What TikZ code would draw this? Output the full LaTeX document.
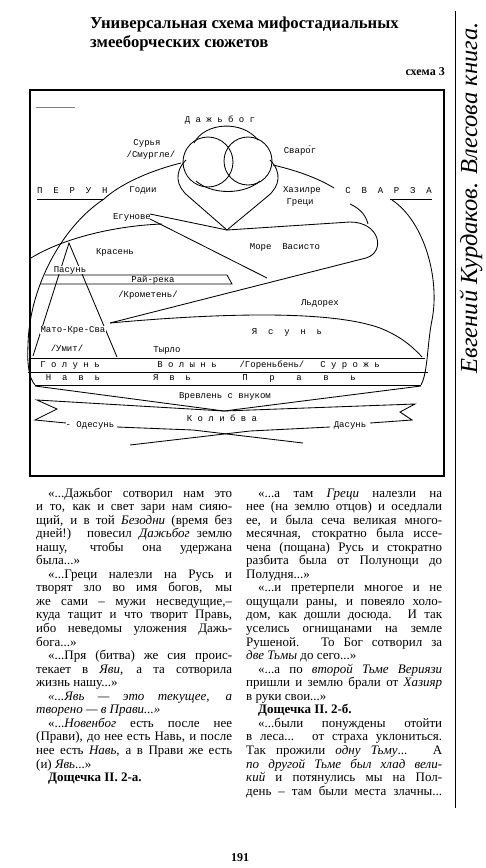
\documentclass[tikz,border=0pt]{standalone}
\usepackage{fontspec}
\setmainfont{Liberation Serif}
\newfontfamily\typefont{Liberation Mono}
\usetikzlibrary{positioning}

\newlength\colw
\setlength\colw{196pt}
\newcommand\fullline[1]{\hbox to \colw{#1}}
\newcommand\lastline[1]{\hbox{#1}}
\newcommand\ind{\hspace*{12pt}}

\tikzset{
  lbl/.style={font=\typefont\fontsize{9}{9.5}\selectfont, inner sep=0pt},
  curve/.style={line width=0.85pt},
  frame/.style={line width=1.1pt},
  column/.style={anchor=base west, inner sep=0pt, font=\fontsize{13}{13.55}\selectfont},
}

\begin{document}
\begin{tikzpicture}[x=1pt, y=-1pt]
\useasboundingbox (0,0) rectangle (486,868);

% title
\node[anchor=base west, inner sep=0pt, font=\bfseries\fontsize{16.7}{19}\selectfont] (title1) at (90,28) {Универсальная схема мифостадиальных};
\node[anchor=base west, inner sep=0pt, font=\bfseries\fontsize{16.7}{19}\selectfont] (title2) at (90,47) {змееборческих сюжетов};
\node[anchor=base east, inner sep=0pt, font=\bfseries\fontsize{12}{13}\selectfont] (schemeno) at (445,75) {схема 3};

% running head on the side
\draw[line width=0.9pt] (455,11) -- (455,808);
\node[rotate=90, inner sep=0pt, font=\itshape\fontsize{24.5}{26}\selectfont] (runhead) at (471,198) {Евгений Курдаков. Влесова книга.};

% frame of the scheme
\draw[frame] (30,90) rectangle (444,476);
\draw[line width=0.5pt, gray] (36,107) -- (75,107);

% sky: Dazhbog and the two discs
\node[lbl] (dazhbog) at (220,120) {Д~а~ж~ь~б~о~г};
\draw[curve] (208,162) circle (25);
\draw[curve] (248,161) circle (24);
\draw[curve] (194,143) .. controls (205,122) and (242,120) .. (258,140);
\draw[curve] (196,181) .. controls (212,195) and (244,195) .. (260,181);
\node[lbl] (surya) at (147,143) {Сурья};
\node[lbl] (smurgle) at (151,155) {/Смургле/};
\node[lbl] (svarog) at (300,150) {Сваро́г};

% heart under the discs
\coordinate (heartpt) at (227,230);
\draw[curve] (186,160) .. controls (174,172) and (176,186) .. (188,196) -- (heartpt);
\draw[curve] (270,160) .. controls (282,172) and (280,186) .. (268,196) -- (heartpt);

% Perun and Svarza
\node[lbl, anchor=west] (perun) at (37,191) {П~~Е~~Р~~У~~Н};
\node[lbl] (godii) at (143,190) {Годии};
\node[lbl, anchor=east] (svarza) at (432,191) {С~~В~~А~~Р~~З~~А};
\node[lbl] (hazire) at (302,190) {Хазилре};
\node[lbl] (greci) at (300,202) {Греци};
\node[lbl] (egunove) at (132,217) {Егунове};
\draw[curve] (37,199) -- (104,199);
\draw[curve] (181,163) .. controls (145,172) and (118,186) .. (104,199)
   .. controls (60,228) and (29,290) .. (28,345)
   .. controls (27,365) and (29,378) .. (35,385);
\draw[curve] (273,165) .. controls (295,170) and (318,178) .. (334,188);
\draw[curve] (390,199) -- (432,199);
\draw[curve] (392,200) .. controls (425,222) and (440,280) .. (432,320)
   .. controls (427,345) and (428,372) .. (421,385);

% sea Vasisto
\node[lbl] (more) at (285,247) {Море~~Васисто};
\coordinate (matoend) at (110,323);
\draw[curve] (heartpt) -- (350,222) .. controls (380,222) and (386,252) .. (366,258) -- (matoend);
\draw[curve] (350,204) .. controls (361,209) and (366,216) .. (368,224);

% Egunove wedge and Krasen
\coordinate (krasentip) at (267,278);
\draw[curve] (150,214) -- (heartpt);
\draw[curve] (150,219) -- (krasentip);
\draw[curve] (31,258) .. controls (60,240) and (110,226) .. (162,224);
\node[lbl] (krasen) at (115,252) {Красень};

% mountain
\draw[curve] (33,356) -- (69,243) -- (117,357);
\node[lbl, fill=white, inner sep=0.5pt] (pasun) at (70,270) {Пасунь};
\draw[curve] (45,275) -- (227,275) -- (232,284) -- (40,284);
\node[lbl] (raireka) at (153,280) {Рай-река};
\node[lbl] (krometen) at (148,295) {/Крометень/};
\node[lbl] (ldoreh) at (320,303) {Льдорех};
\node[lbl, fill=white, inner sep=0.5pt] (mato) at (73,330) {Мато-Кре-Сва};
\node[lbl] (yasun) at (287,332) {Я~~с~~у~~н~~ь};
\draw[curve] (matoend) .. controls (220,313) and (330,310) .. (380,328)
   .. controls (400,336) and (412,346) .. (422,357);
\node[lbl] (umit) at (67,348) {/Умит/};
\node[lbl] (tyrlo) at (167,350) {Тырло};

% bands
\draw[curve] (30,358) -- (425,358);
\draw[curve] (28,372) -- (428,372);
\draw[curve] (35,385) -- (421,385);
\node[lbl] (golun) at (70,365) {Г~о~л~у~н~ь};
\node[lbl] (volyn) at (187,365) {В~о~л~ы~н~ь};
\node[lbl] (gorenben) at (272,365) {/Гореньбень/};
\node[lbl] (surozh) at (350,365) {С~у~р~о~ж~ь};
\node[lbl] (nav) at (73,378) {Н~~а~~в~~ь};
\node[lbl] (yav) at (172,378) {Я~~в~~ь};
\node[lbl] (prav) at (299,378) {П~~~~р~~~~а~~~~в~~~~ь};

% Vrevlen and the ribbon
\coordinate (vbot) at (224,411);
\draw[curve] (35,386) -- (vbot) -- (421,386);
\node[lbl] (vrevlen) at (225,396) {Вревлень с внуком};
\draw[curve] (vbot) -- (37,400) -- (57,409) -- (35,420) -- (66,423);
\draw[curve] (vbot) -- (415,404) -- (400,412) -- (412,420) -- (370,423);
\node[lbl] (odesun) at (90,425) {-~Одесунь};
\node[lbl] (dasun) at (350,425) {Дасунь};
\node[lbl] (kolibva) at (222,418) {К~о~л~и~б~в~а};
\draw[curve] (117,427) -- (193,430) -- (303,443);
\draw[curve] (330,427) -- (250,431) -- (130,445);

% text columns
\node[column] (leftcol) at (36,497) {\vtop{%
\fullline{\ind«...Дажьбог сотворил нам это}
\fullline{и то, как и свет зари нам сияю-}
\fullline{щий, и в той \textit{Безодни} (время без}
\fullline{дней!) повесил \textit{Дажьбог} землю}
\fullline{нашу, чтобы она удержана}
\lastline{была...»}
\fullline{\ind«...Греци налезли на Русь и}
\fullline{творят зло во имя богов, мы}
\fullline{же сами – мужи несведущие,–}
\fullline{куда тащит и что творит Правь,}
\fullline{ибо неведомы уложения Дажь-}
\lastline{бога...»}
\fullline{\ind«...Пря (битва) же сия проис-}
\fullline{текает в \textit{Яви}, а та сотворила}
\lastline{жизнь нашу...»}
\fullline{\ind\textit{«...Явь — это текущее, а}}
\lastline{\textit{творено — в Прави...»}}
\fullline{\ind«...\textit{Новенбог} есть после нее}
\fullline{(Прави), до нее есть Навь, и после}
\fullline{нее есть \textit{Навь}, а в Прави же есть}
\lastline{(и) \textit{Явь}...»}
\lastline{\ind\textbf{Дощечка II. 2-а.}}}};

\node[column] (rightcol) at (246,497) {\vtop{%
\fullline{\ind«...а там \textit{Греци} налезли на}
\fullline{нее (на землю отцов) и оседлали}
\fullline{ее, и была сеча великая много-}
\fullline{месячная, стократно была иссе-}
\fullline{чена (пощана) Русь и стократно}
\fullline{разбита была от Полунощи до}
\lastline{Полудня...»}
\fullline{\ind«...и претерпели многое и не}
\fullline{ощущали раны, и повеяло холо-}
\fullline{дом, как дошли досюда. И так}
\fullline{уселись огнищанами на земле}
\fullline{Рушеной. То Бог сотворил за}
\lastline{\textit{две Тьмы} до сего...»}
\fullline{\ind«...а по \textit{второй Тьме Вериязи}}
\fullline{пришли и землю брали от \textit{Хазияр}}
\lastline{в руки свои...»}
\lastline{\ind\textbf{Дощечка II. 2-б.}}
\fullline{\ind«...были понуждены отойти}
\fullline{в леса... от страха уклониться.}
\fullline{Так прожили \textit{одну Тьму}... А}
\fullline{\textit{по другой Тьме был хлад вели-}}
\fullline{\textit{кий} и потянулись мы на Пол-}
\fullline{день – там были места злачны...}}};

% page number
\node[anchor=base, inner sep=0pt, font=\bfseries\fontsize{12}{13}\selectfont] (pageno) at (240,861) {191};
\end{tikzpicture}
\end{document}
